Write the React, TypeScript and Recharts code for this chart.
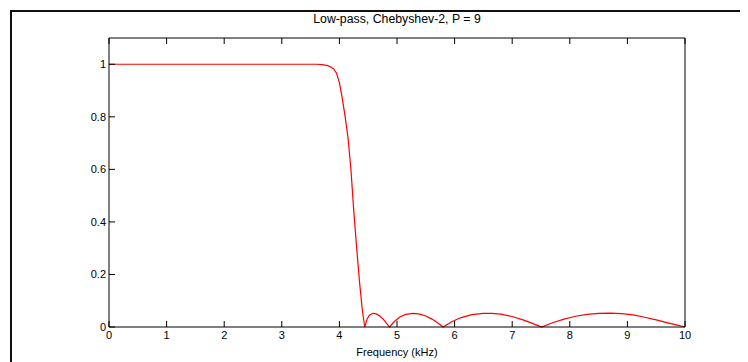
import { LineChart, Line, XAxis, YAxis } from 'recharts'

// frequency (kHz) and |H|
const freqKHz = [
  0, 1, 2, 3, 3.5, 3.6, 3.7, 3.8, 3.85, 3.9, 3.95, 4.0, 4.05, 4.1, 4.15, 4.2,
  4.25, 4.3, 4.35, 4.4, 4.44, 4.48, 4.52, 4.58, 4.64, 4.7, 4.76, 4.82, 4.87,
  4.95, 5.05, 5.15, 5.28, 5.4, 5.5, 5.6, 5.7, 5.8, 5.95, 6.1, 6.3, 6.5, 6.65,
  6.8, 7.0, 7.2, 7.35, 7.51, 7.7, 7.9, 8.1, 8.3, 8.5, 8.7, 8.9, 9.1, 9.3, 9.5,
  9.7, 9.85, 10
]
const magnitude = [
  1, 1, 1, 1, 1, 1, 0.999, 0.995, 0.99, 0.982, 0.966, 0.93, 0.87, 0.8, 0.72, 0.6,
  0.44, 0.3, 0.17, 0.06, 0, 0.03, 0.045, 0.052, 0.05, 0.042, 0.03, 0.014, 0,
  0.02, 0.038, 0.048, 0.052, 0.049, 0.042, 0.031, 0.017, 0, 0.02, 0.035, 0.047, 0.052, 0.052,
  0.049, 0.04, 0.026, 0.014, 0, 0.016, 0.03, 0.041, 0.048, 0.052, 0.053, 0.051, 0.046, 0.037, 0.027,
  0.016, 0.008, 0
]
const xTicks = [0, 1, 2, 3, 4, 5, 6, 7, 8, 9, 10]
const yTicks = [0, 0.2, 0.4, 0.6, 0.8, 1]

const data = freqKHz.map((f, i) => ({ f, m: magnitude[i] }))

const TICK = 6
const FONT = '"Liberation Sans", Arial, sans-serif'

// MATLAB-style ticks point into the plot box
const BottomTick = ({ x, y, payload }: any) => (
  <g>
    <line x1={x} x2={x} y1={y} y2={y - TICK} stroke="#000" />
    <text x={x} y={y + 12} textAnchor="middle" fontSize={11} fill="#000" fontFamily={FONT}>
      {payload.value}
    </text>
  </g>
)
const TopTick = ({ x, y }: any) => (
  <line x1={x} x2={x} y1={y} y2={y + TICK} stroke="#000" />
)
const LeftTick = ({ x, y, payload }: any) => (
  <g>
    <line x1={x} x2={x + TICK} y1={y} y2={y} stroke="#000" />
    <text x={x - 3} y={y + 4} textAnchor="end" fontSize={11} fill="#000" fontFamily={FONT}>
      {payload.value}
    </text>
  </g>
)
const RightTick = ({ x, y }: any) => (
  <line x1={x} x2={x - TICK} y1={y} y2={y} stroke="#000" />
)

export default function App() {
  return (
    <div style={{ position: 'relative', width: 740, height: 354, overflow: 'hidden', fontFamily: FONT }}>
      <div
        style={{
          position: 'absolute', left: 2, top: 2, width: 800, height: 400,
          borderLeft: '2px solid #111', borderTop: '2px solid #111'
        }}
      />
      <div
        style={{
          position: 'absolute', left: 101, top: 4, width: 576, textAlign: 'center',
          fontSize: 12.3, lineHeight: '14px', color: '#000'
        }}
      >
        Low-pass, Chebyshev-2, P = 9
      </div>
      <div style={{ position: 'absolute', left: 0, top: 0 }}>
        <LineChart width={740} height={354} data={data} margin={{ top: 0, right: 0, bottom: 0, left: 0 }}>
          <XAxis
            dataKey="f" type="number" domain={[0, 10]} ticks={xTicks} interval={0}
            height={35} tickSize={0} tickMargin={0} tickLine={false}
            axisLine={{ stroke: '#000' }} tick={<BottomTick />}
            label={{ value: 'Frequency (kHz)', position: 'insideBottom', offset: 6, fontSize: 11, fill: '#000' }}
          />
          <XAxis
            xAxisId="top" orientation="top" dataKey="f" type="number" domain={[0, 10]} ticks={xTicks}
            interval={0} height={30} tickSize={0} tickMargin={0} tickLine={false}
            axisLine={{ stroke: '#000' }} tick={<TopTick />}
          />
          <YAxis
            type="number" domain={[0, 1.1]} ticks={yTicks} interval={0} width={101}
            tickSize={0} tickMargin={0} tickLine={false}
            axisLine={{ stroke: '#000' }} tick={<LeftTick />}
          />
          <YAxis
            yAxisId="right" orientation="right" type="number" domain={[0, 1.1]} ticks={yTicks}
            interval={0} width={63} tickSize={0} tickMargin={0} tickLine={false}
            axisLine={{ stroke: '#000' }} tick={<RightTick />}
          />
          <Line
            type="linear" dataKey="m" stroke="#ff0000" strokeWidth={1.2} dot={false}
            isAnimationActive={false}
          />
        </LineChart>
      </div>
    </div>
  )
}
